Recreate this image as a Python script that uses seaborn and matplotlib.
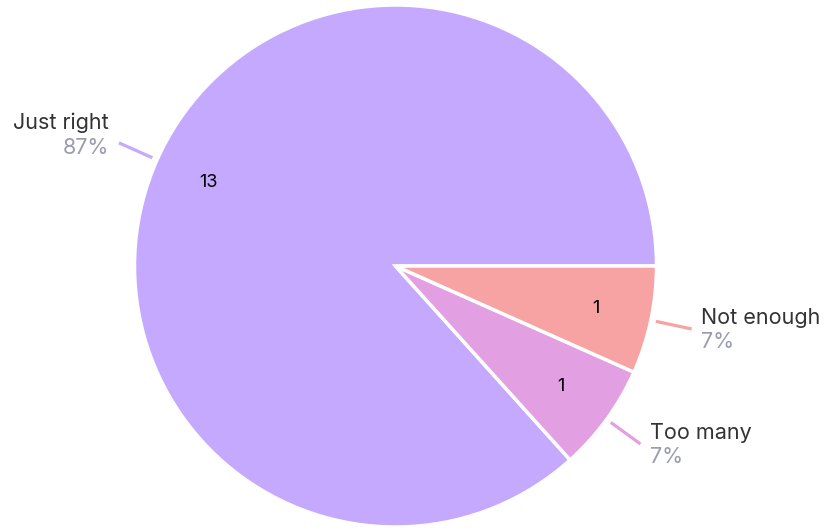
import numpy as np
import matplotlib
matplotlib.use('Agg')
import matplotlib.pyplot as plt
import seaborn as sns

labels = ['Just right', 'Too many', 'Not enough']
counts = [13, 1, 1]
colors = ['#C5A9FE', '#E2A0E2', '#F8A3A3']

sns.set_theme(style='white')
plt.rcParams['font.family'] = ['Inter', 'DejaVu Sans']

W, H = 832, 530
fig = plt.figure(figsize=(W / 100, H / 100), dpi=100)
cx, cy, r = 395.5, 266, 261
ax = fig.add_axes([(cx - r) / W, (H - cy - r) / H, 2 * r / W, 2 * r / H])

total = sum(counts)
wedges, texts, autotexts = ax.pie(
    counts, colors=colors, startangle=0, counterclock=True,
    autopct=lambda p: f'{round(p * total / 100):d}', pctdistance=0.785,
    wedgeprops=dict(edgecolor='white', linewidth=2.5),
    textprops=dict(fontsize=13, color='black'))
ax.set_xlim(-1, 1)
ax.set_ylim(-1, 1)
ax.set_aspect('equal')
ax.axis('off')

for w, lab, c in zip(wedges, labels, counts):
    ang = np.deg2rad((w.theta1 + w.theta2) / 2)
    x0, y0 = 1.02 * np.cos(ang), 1.02 * np.sin(ang)
    x1, y1 = 1.16 * np.cos(ang), 1.16 * np.sin(ang)
    ax.plot([x0, x1], [y0, y1], color=w.get_facecolor(), lw=2.3,
            clip_on=False, solid_capstyle='butt')
    side = 1 if np.cos(ang) >= 0 else -1
    ha = 'left' if side > 0 else 'right'
    top_off, bot_off = (0.5, -2.2) if side > 0 else (7, 3.6)
    pct = f'{round(100 * c / total)}%'
    ax.annotate(lab, (x1, y1), xytext=(7 * side, top_off), textcoords='offset points',
                ha=ha, va='bottom', fontsize=15.5, color='#333333', annotation_clip=False)
    ax.annotate(pct, (x1, y1), xytext=(7 * side, bot_off), textcoords='offset points',
                ha=ha, va='top', fontsize=15.5, color='#9A9AB2', annotation_clip=False)

fig.savefig('out.png', dpi=100)
